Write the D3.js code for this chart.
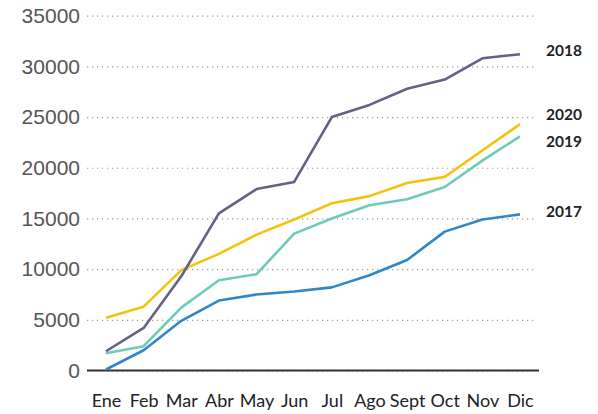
<!DOCTYPE html>
<html>
<head>
<meta charset="utf-8">
<script src="https://cdn.jsdelivr.net/npm/d3@7"></script>
<style>
  body { margin: 0; background: #fff; }
  svg { display: block; }
</style>
</head>
<body>
<div class="chart"></div>
<script>
const width = 598;
const height = 414;

// data
const months = ['Ene', 'Feb', 'Mar', 'Abr', 'May', 'Jun', 'Jul', 'Ago', 'Sept', 'Oct', 'Nov', 'Dic'];
const yTicks = [0, 5000, 10000, 15000, 20000, 25000, 30000, 35000];
const years = ['2017', '2019', '2020', '2018'];
const v2017 = [100, 2000, 4900, 6900, 7500, 7800, 8200, 9400, 10900, 13700, 14900, 15400];
const v2018 = [1900, 4200, 9300, 15500, 17900, 18600, 25000, 26200, 27800, 28700, 30800, 31200];
const v2019 = [1700, 2400, 6200, 8900, 9500, 13500, 15000, 16300, 16900, 18100, 20700, 23100];
const v2020 = [5200, 6300, 9900, 11500, 13400, 14900, 16500, 17200, 18500, 19100, 21700, 24300];

const series = [
  { name: '2017', values: v2017, color: '#2f87c8', dy: -3 },
  { name: '2019', values: v2019, color: '#6dcbb9', dy: 5 },
  { name: '2020', values: v2020, color: '#f5c30f', dy: -10 },
  { name: '2018', values: v2018, color: '#636283', dy: -4 }
];

const svg = d3.select('.chart')
  .append('svg')
  .attr('width', width)
  .attr('height', height);

const xScale = d3.scalePoint()
  .domain(months)
  .range([106, 520]);

const yScale = d3.scaleLinear()
  .domain([0, 35000])
  .range([370.5, 15.7]);

// gridlines + y labels
const yAxis = d3.axisLeft(yScale)
  .tickValues(yTicks)
  .tickSize(-(536 - 87))
  .tickPadding(7)
  .tickFormat(d3.format('d'));

const yG = svg.append('g')
  .attr('transform', 'translate(87, 0)')
  .call(yAxis);

yG.select('.domain').remove();
yG.selectAll('.tick line')
  .attr('stroke', '#9a9a9a')
  .attr('stroke-width', 1.2)
  .attr('stroke-dasharray', '1.2 3.8');
yG.selectAll('.tick text')
  .attr('fill', '#555')
  .style('font-family', '"Liberation Sans", Arial, sans-serif')
  .style('font-size', '21px');

// baseline
svg.append('line')
  .attr('x1', 87)
  .attr('x2', 539)
  .attr('y1', yScale(0))
  .attr('y2', yScale(0))
  .attr('stroke', '#333')
  .attr('stroke-width', 2);

// x labels
const xAxis = d3.axisBottom(xScale).tickSize(0).tickPadding(24);
const xG = svg.append('g')
  .attr('transform', `translate(0, ${yScale(0)})`)
  .call(xAxis);
xG.select('.domain').remove();
xG.selectAll('.tick text')
  .attr('fill', '#222')
  .style('font-family', 'Lato, sans-serif')
  .style('font-size', '18px');

// lines
const line = d3.line()
  .x((d, i) => xScale(months[i]))
  .y((d) => yScale(d));

svg.selectAll('path.series')
  .data(series)
  .enter()
  .append('path')
  .attr('class', 'series')
  .attr('d', (d) => line(d.values))
  .attr('fill', 'none')
  .attr('stroke', (d) => d.color)
  .attr('stroke-width', 2.6)
  .attr('stroke-linejoin', 'round');

// end labels
svg.selectAll('text.label')
  .data(series)
  .enter()
  .append('text')
  .attr('class', 'label')
  .attr('x', 546)
  .attr('y', (d) => yScale(d.values[d.values.length - 1]) + d.dy)
  .attr('dy', '0.35em')
  .attr('fill', '#222')
  .style('font-family', 'Lato, sans-serif')
  .style('font-weight', 'bold')
  .style('font-size', '15.5px')
  .text((d) => d.name);
</script>
</body>
</html>
